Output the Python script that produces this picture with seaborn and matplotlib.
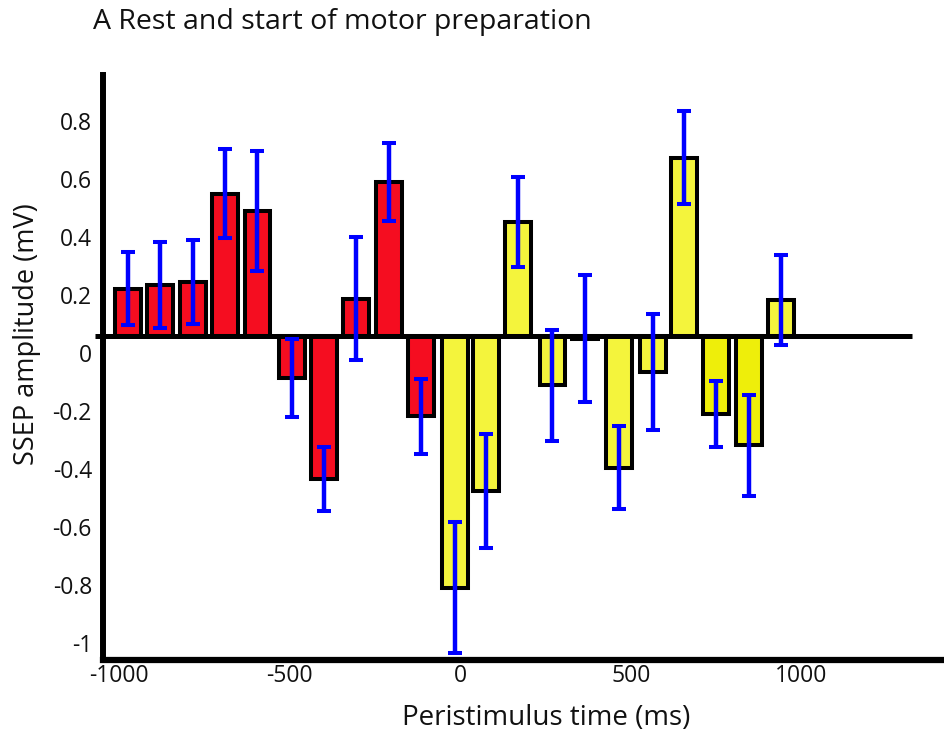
import numpy as np
import pandas as pd
import matplotlib
matplotlib.use("Agg")
import matplotlib.pyplot as plt
import seaborn as sns

# Bin centres (ms, relative to stimulus) and mean SSEP amplitude per bin (mV)
times = [-975, -880, -785, -690, -595, -495, -400, -305, -210, -115,
         -15, 75, 170, 270, 365, 465, 565, 655, 750, 845, 940]
amplitude = [0.222, 0.234, 0.245, 0.550, 0.490, -0.086, -0.434, 0.188, 0.590, -0.219,
             -0.809, -0.476, 0.452, -0.112, 0.050, -0.395, -0.066, 0.674, -0.210, -0.319, 0.183]
sem = [0.125, 0.149, 0.145, 0.154, 0.206, 0.134, 0.110, 0.212, 0.134, 0.128,
       0.225, 0.198, 0.156, 0.190, 0.220, 0.144, 0.200, 0.160, 0.114, 0.175, 0.156]
phase = ["rest"] * 10 + ["preparation"] * 11

# fill colours: red for rest, yellow for preparation (two bins a deeper yellow)
phase_colors = {"rest": "#F50D20", "preparation": "#F4F43C"}
deep_yellow = "#EEEE0A"
deep_bins = {750, 845}
bar_palette = {t: (deep_yellow if t in deep_bins else phase_colors[p])
               for t, p in zip(times, phase)}

baseline = 0.059
yticks = [-1.0, -0.8, -0.6, -0.4, -0.2, 0.0, 0.2, 0.4, 0.6, 0.8]
ytick_labels = ["-1", "-0.8", "-0.6", "-0.4", "-0.2", "0", "0.2", "0.4", "0.6", "0.8"]
xticks = [-1000, -500, 0, 500, 1000]
xtick_labels = ["-1000", "-500", "0", "500", "1000"]

df = pd.DataFrame({
    "time": times,
    "height": np.array(amplitude) - baseline,
    "phase": phase,
})

sns.set_style("white")
plt.rcParams["font.family"] = ["Open Sans", "DejaVu Sans"]
plt.rcParams["axes.unicode_minus"] = False
text_color = "#111111"

fig = plt.figure(figsize=(9.44, 7.37), dpi=100)
ax = fig.add_axes([103 / 944, 1 - 660 / 737, 1 - 103 / 944, (660 - 75) / 737])

sns.barplot(data=df, x="time", y="height", hue="time", palette=bar_palette,
            native_scale=True, dodge=False, width=0.845, errorbar=None,
            edgecolor="black", linewidth=2.9, bottom=baseline, legend=False,
            saturation=1, ax=ax, zorder=2)

# zero line across the plot
ax.plot([-1070, 1325], [baseline, baseline], color="black", lw=3.6,
        solid_capstyle="butt", clip_on=False, zorder=3)

ax.errorbar(times, amplitude, yerr=sem, fmt="none", ecolor="#0000FF",
            elinewidth=3.2, capsize=4.7, capthick=2.9, zorder=4, clip_on=False)

ax.set_xlim(-1048, 1418)
ax.set_ylim(-1.059, 0.959)
ax.set_xticks(xticks)
ax.set_xticklabels(xtick_labels)
ax.set_yticks(yticks)
ax.set_yticklabels(ytick_labels)
ax.tick_params(axis="both", length=0, labelsize=16.5, colors=text_color)
ax.tick_params(axis="y", pad=8)
ax.tick_params(axis="x", pad=3)

for side in ("top", "right"):
    ax.spines[side].set_visible(False)
ax.spines["left"].set_linewidth(4.3)
ax.spines["bottom"].set_linewidth(4.5)
ax.spines["left"].set_color("black")
ax.spines["bottom"].set_color("black")
ax.spines["left"].set_capstyle("projecting")
ax.spines["bottom"].set_capstyle("projecting")

ax.set_xlabel("")
ax.set_ylabel("")
fig.text(546 / 944, 1 - 718 / 737, "Peristimulus time (ms)", ha="center", va="center",
         fontsize=20, color=text_color)
fig.text(27 / 944, 1 - 334 / 737, "SSEP amplitude (mV)", ha="center", va="center",
         rotation=90, fontsize=19.5, color=text_color)
fig.text(93 / 944, 1 - 22 / 737, "A Rest and start of motor preparation", ha="left",
         va="center", fontsize=20.5, color=text_color)

fig.savefig("out.png", dpi=100)
